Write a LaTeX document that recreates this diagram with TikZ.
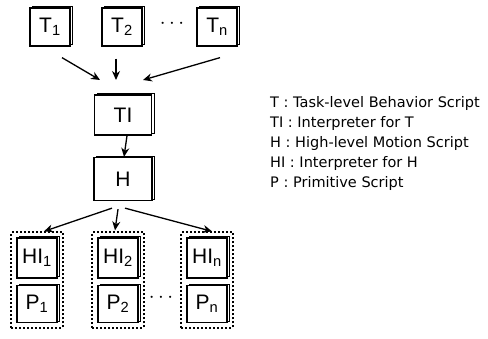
\documentclass[tikz,border=0pt]{standalone}
\usepackage{fontspec}
\setmainfont{Liberation Sans}
\newfontfamily\legendfont{DejaVu Sans}
\usepackage{tikz}
\usetikzlibrary{arrows.meta}
\usetikzlibrary{calc}
\usetikzlibrary{positioning, fit, shadows}
\tikzstyle{script} = [draw, line width=1.3pt, fill=white,
	copy shadow={shadow xshift=2.5pt, shadow yshift=1.5pt, draw, line width=0.8pt, fill=white},
	minimum width = 40pt,
	minimum height = 38pt, inner sep=0pt,
	font=\fontsize{21}{21}\selectfont]
\tikzstyle{group} = [draw, line width=2pt, dotted, inner sep=5pt]
\tikzstyle{arrow} = [-{Stealth[length=9pt, width=8pt]}, line width=1.3pt]
\newcommand{\moredots}{\fontsize{20}{20}\selectfont$\cdots$}

\begin{document}
\begin{tikzpicture}[x=1pt, y=-1pt]
	\useasboundingbox (0,0) rectangle (488,339);
	% task-level scripts
	\node (t1) [script] at (50,27) {T\textsubscript{1}};
	\node (t2) [script] at (122,27) {T\textsubscript{2}};
	\node (tn) [script] at (217,27) {T\textsubscript{n}};
	\node (tdots) at (172,24) {\moredots};

	\node (ti) [script, minimum width=57pt, minimum height=40pt] at (123,115) {TI};
	\node (h) [script, minimum width=58pt, minimum height=43pt] at (123,179) {H};

	% interpreter + primitive pairs
	\node (hi1) [script, minimum height=40pt] at (37,258) {HI\textsubscript{1}};
	\node (p1) [script, minimum height=37pt] at (37,304) {P\textsubscript{1}};
	\node (hi2) [script, minimum height=40pt] at (118,258) {HI\textsubscript{2}};
	\node (p2) [script, minimum height=37pt] at (118,304) {P\textsubscript{2}};
	\node (hin) [script, minimum height=40pt] at (207,258) {HI\textsubscript{n}};
	\node (pn) [script, minimum height=37pt] at (207,304) {P\textsubscript{n}};
	\node (pdots) at (161,298) {\moredots};

	\node (g1) [group, fit=(hi1) (p1)] {};
	\node (g2) [group, fit=(hi2) (p2)] {};
	\node (gn) [group, fit=(hin) (pn)] {};

	\coordinate (in1) at (100,80);
	\coordinate (in2) at (116,80);
	\coordinate (in3) at (143,80);
	\draw [arrow] ($(t1.south)+(12,11)$) -- (in1);
	\draw [arrow] ($(t2.south)+(-6,12)$) -- (in2);
	\draw [arrow] ($(tn.south)+(3,11)$) -- (in3);

	\draw [arrow] ($(ti.south)+(4,0)$) -- ($(h.north)+(1,0)$);

	\draw [arrow] ($(h.south)+(-11,7)$) -- ($(g1.north)+(7,0)$);
	\draw [arrow] ($(h.south)+(-5,8)$) -- ($(g2.north)+(-3,-1)$);
	\draw [arrow] ($(h.south)+(2,7)$) -- ($(gn.north)+(5,0)$);

	% legend
	\node (legend) [anchor=north west, align=left, inner sep=0pt,
		font=\legendfont\fontsize{14.5}{20}\selectfont]
		at (270,96) {T : Task-level Behavior Script\\
		TI : Interpreter for T\\
		H : High-level Motion Script\\
		HI : Interpreter for H\\
		P : Primitive Script};
\end{tikzpicture}
\end{document}
